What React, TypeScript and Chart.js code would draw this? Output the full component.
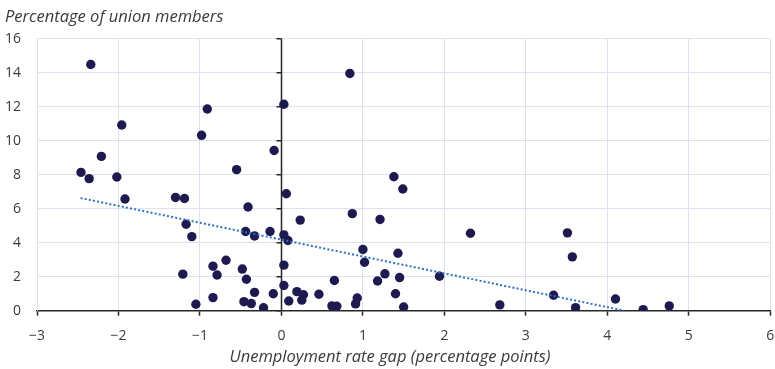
import { useEffect, useRef } from "react";
import { Chart, registerables } from "chart.js";

Chart.register(...registerables);

// Unemployment rate gap (percentage points), one entry per observation
const gapX = [
  -2.46, -2.36, -2.34, -2.21, -2.02, -1.96, -1.92, -1.3, -1.19, -1.21,
  -1.17, -1.1, -1.05, -0.98, -0.91, -0.84, -0.84, -0.79, -0.68, -0.55,
  -0.48, -0.46, -0.43, -0.44, -0.41, -0.37, -0.33, -0.33, -0.22, -0.14,
  -0.1, -0.09, 0.03, 0.03, 0.03, 0.03, 0.06, 0.08, 0.09, 0.19,
  0.23, 0.25, 0.27, 0.46, 0.62, 0.68, 0.65, 0.84, 0.87, 0.91,
  0.93, 1.0, 1.02, 1.18, 1.21, 1.27, 1.38, 1.4, 1.43, 1.45,
  1.49, 1.5, 1.94, 2.32, 2.68, 3.34, 3.51, 3.57, 3.61, 4.1,
  4.44, 4.76,
];

// Percentage of union members for the same observations
const unionShare = [
  8.14, 7.77, 14.49, 9.08, 7.87, 10.93, 6.57, 6.66, 6.6, 2.15,
  5.09, 4.36, 0.38, 10.32, 11.87, 2.62, 0.77, 2.1, 2.97, 8.3,
  2.45, 0.53, 1.85, 4.66, 6.1, 0.42, 1.08, 4.4, 0.17, 4.66,
  1.0, 9.43, 12.15, 4.46, 2.68, 1.48, 6.88, 4.13, 0.57, 1.12,
  5.33, 0.62, 0.94, 0.97, 0.28, 0.26, 1.78, 13.96, 5.71, 0.4,
  0.75, 3.6, 2.85, 1.75, 5.37, 2.17, 7.88, 1.0, 3.38, 1.95,
  7.16, 0.22, 2.03, 4.56, 0.34, 0.91, 4.58, 3.17, 0.18, 0.69,
  0.06, 0.28,
];

// Linear trend endpoints
const trendX = [-2.465, 4.21];
const trendY = [6.63, 0];

const xRange = [-3, 6];
const yRange = [0, 16];

const FONT = "'Open Sans', 'Noto Sans', sans-serif";
const DOT = "#1c1a4f";
const TREND = "#2f72c4";
const GRID = "#dde2ee";
const AXIS = "#262626";
const TEXT = "#3a3a3a";

const minusLabel = (v: number | string) => {
  const n = Number(v);
  return n < 0 ? "\u2212" + Math.abs(n) : String(n);
};

// Vertical axis line through x = 0, with short ticks pointing left
const zeroAxisPlugin = {
  id: "zeroAxis",
  beforeDatasetsDraw(chart: any) {
    const { ctx, chartArea } = chart;
    const x = chart.scales.x;
    const y = chart.scales.y;
    const px = Math.round(x.getPixelForValue(0)) + 0.5;
    ctx.save();
    ctx.strokeStyle = AXIS;
    ctx.lineWidth = 1.5;
    ctx.beginPath();
    ctx.moveTo(px, chartArea.top);
    ctx.lineTo(px, chartArea.bottom);
    for (const t of y.ticks) {
      const py = y.getPixelForValue(t.value);
      ctx.moveTo(px - 5, py);
      ctx.lineTo(px, py);
    }
    ctx.stroke();
    ctx.restore();
  },
};

export default function App() {
  const canvasRef = useRef<HTMLCanvasElement | null>(null);

  useEffect(() => {
    if (!canvasRef.current) return;
    const chart = new Chart(canvasRef.current, {
      type: "scatter",
      data: {
        datasets: [
          {
            label: "Union membership",
            data: gapX.map((g, i) => ({ x: g, y: unionShare[i] })),
            backgroundColor: DOT,
            borderColor: DOT,
            borderWidth: 0,
            pointRadius: 4.7,
            order: 2,
          },
          {
            type: "line",
            label: "Trend",
            data: trendX.map((g, i) => ({ x: g, y: trendY[i] })),
            borderColor: TREND,
            borderWidth: 2,
            borderDash: [2, 2.2],
            pointRadius: 0,
            fill: false,
            order: 1,
          } as any,
        ],
      },
      options: {
        animation: false,
        responsive: true,
        maintainAspectRatio: false,
        layout: { padding: { left: 5, right: 0, top: 0, bottom: 0 } },
        plugins: {
          legend: { display: false },
          tooltip: { enabled: false },
          title: {
            display: true,
            text: "Percentage of union members",
            align: "start",
            color: TEXT,
            font: { family: FONT, size: 16.5, style: "italic", weight: "normal" },
            padding: { top: 7, bottom: 12 },
          },
          subtitle: {
            display: true,
            position: "bottom",
            align: "center",
            text: "Unemployment rate gap (percentage points)",
            color: TEXT,
            font: { family: FONT, size: 16.5, style: "italic", weight: "normal" },
            padding: { top: 0, bottom: 2 },
          },
        },
        scales: {
          x: {
            type: "linear",
            min: xRange[0],
            max: xRange[1],
            ticks: {
              stepSize: 1,
              color: TEXT,
              font: { family: FONT, size: 14 },
              padding: 12,
              callback: minusLabel,
            },
            grid: {
              color: (c: any) => (c.tick && c.tick.value === 0 ? "rgba(0,0,0,0)" : GRID),
              lineWidth: 1,
              tickColor: AXIS,
              tickLength: 5,
              tickWidth: 1.5,
            },
            border: { color: AXIS, width: 1.5 },
            afterFit(scale: any) {
              scale.paddingRight = 2;
              scale.height = 36.5;
            },
          },
          y: {
            type: "linear",
            min: yRange[0],
            max: yRange[1],
            ticks: {
              stepSize: 2,
              color: TEXT,
              font: { family: FONT, size: 14 },
              padding: 16,
              callback: minusLabel,
            },
            grid: {
              color: (c: any) => (c.tick && c.tick.value === 0 ? "rgba(0,0,0,0)" : GRID),
              lineWidth: 1,
              drawTicks: false,
            },
            border: { color: GRID, width: 1 },
            afterFit(scale: any) {
              scale.width = 32;
            },
          },
        },
      },
      plugins: [zeroAxisPlugin],
    });
    return () => chart.destroy();
  }, []);

  return (
    <div style={{ position: "fixed", left: 0, top: 0, width: 775, height: 369, background: "#fff" }}>
      <canvas ref={canvasRef} />
    </div>
  );
}
